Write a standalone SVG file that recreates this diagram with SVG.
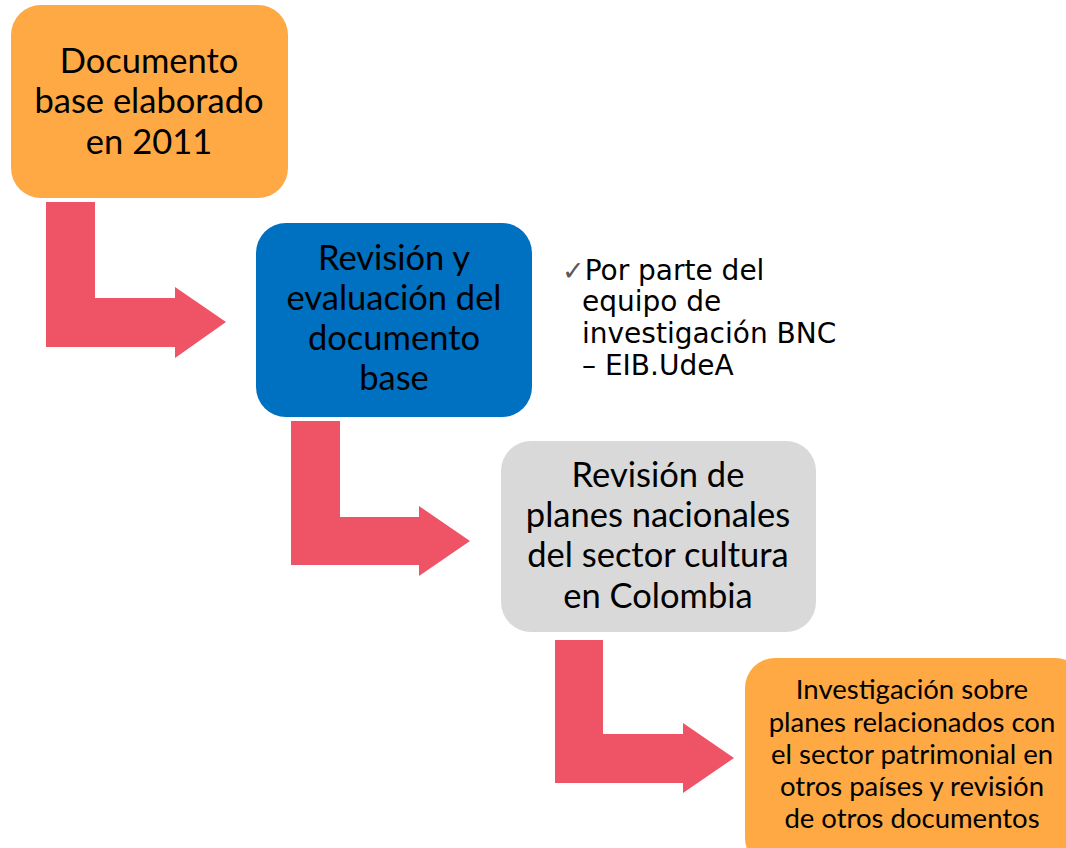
<svg xmlns="http://www.w3.org/2000/svg" width="1066" height="848" viewBox="0 0 1066 848">
<style>
.t{font-family:Lato,"Liberation Sans",sans-serif;fill:#000;text-anchor:middle}
.big{font-size:34.5px}
.sm{font-size:27.5px}
.arr{fill:#EF5466}
.bul{font-family:"DejaVu Sans",Verdana,sans-serif;font-size:28px;fill:#000}
</style>
<rect width="1066" height="848" fill="#fff"/>
<g id="connectors">
<path class="arr" d="M46,202 H95 V298 H175 V287 L226,322 L175,358 V347 H46 Z"/>
<path class="arr" d="M291,421 H340 V517 H419 V506 L470,541 L419,576 V565 H291 Z"/>
<path class="arr" d="M555,640 H603 V734 H683 V723 L734,758 L683,793 V783 H555 Z"/>
</g>
<g id="node1">
<rect x="11" y="5" width="277" height="193" rx="30" fill="#FEA943"/>
<text class="t big" x="149" y="73">Documento</text>
<text class="t big" x="149" y="113">base elaborado</text>
<text class="t big" x="149" y="154">en 2011</text>
</g>
<g id="node2">
<rect x="256" y="223" width="276" height="194" rx="30" fill="#0070C0"/>
<text class="t big" x="394" y="270">Revisión y</text>
<text class="t big" x="394" y="310">evaluación del</text>
<text class="t big" x="394" y="350">documento</text>
<text class="t big" x="394" y="390">base</text>
</g>
<g id="note">
<text class="bul" x="562" y="280"><tspan fill="#595959" font-size="27">✓</tspan>Por parte del</text>
<text class="bul" x="582" y="311">equipo de</text>
<text class="bul" x="582" y="343">investigación BNC</text>
<text class="bul" x="582" y="375">– EIB.UdeA</text>
</g>
<g id="node3">
<rect x="501" y="441" width="315" height="191" rx="30" fill="#D9D9D9"/>
<text class="t big" x="658" y="487">Revisión de</text>
<text class="t big" x="658" y="527">planes nacionales</text>
<text class="t big" x="658" y="567">del sector cultura</text>
<text class="t big" x="658" y="608">en Colombia</text>
</g>
<g id="node4">
<rect x="745" y="658" width="340" height="210" rx="30" fill="#FEA943"/>
<text class="t sm" x="912" y="699">Investigación sobre</text>
<text class="t sm" x="912" y="732">planes relacionados con</text>
<text class="t sm" x="912" y="764">el sector patrimonial en</text>
<text class="t sm" x="912" y="796">otros países y revisión</text>
<text class="t sm" x="912" y="828">de otros documentos</text>
</g>
</svg>
